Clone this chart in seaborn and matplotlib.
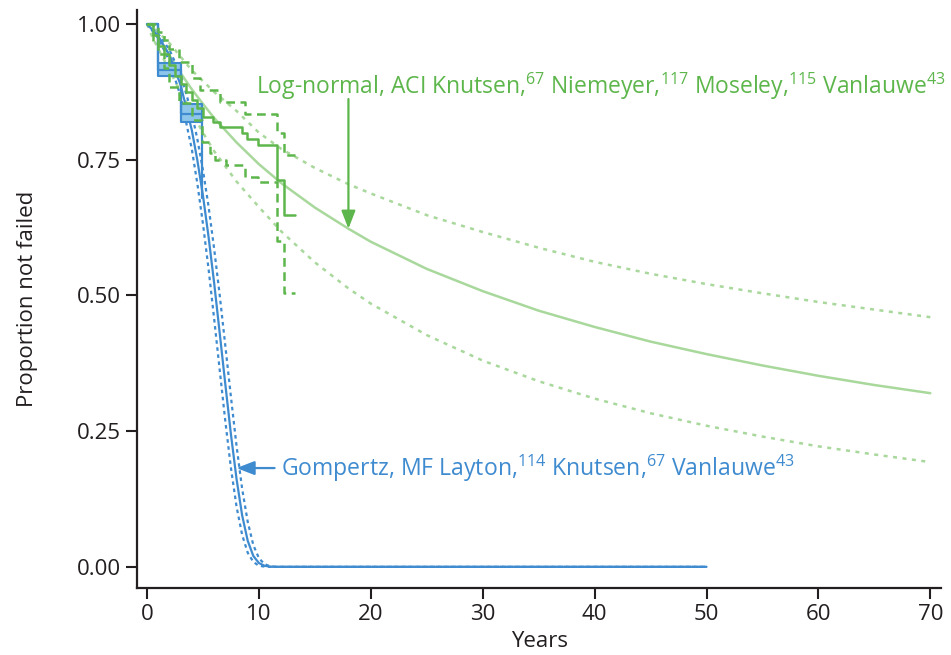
import matplotlib
matplotlib.use("Agg")
import matplotlib.pyplot as plt
import seaborn as sns
import pandas as pd

# ---------------- data ----------------
# Log-normal fit (ACI) : central curve and confidence limits
ln_t = [0, 0.5, 1, 2, 3, 4, 5, 6, 8, 10, 12, 15, 18, 20, 25, 30, 35, 40, 45, 50, 55, 60, 65, 70]
ln_mid = [1.0, 0.991, 0.976, 0.942, 0.910, 0.880, 0.853, 0.827, 0.782, 0.742, 0.707, 0.662,
          0.623, 0.599, 0.549, 0.508, 0.472, 0.442, 0.415, 0.392, 0.371, 0.352, 0.335, 0.320]
ln_up = [1.0, 0.995, 0.985, 0.965, 0.940, 0.915, 0.895, 0.875, 0.840, 0.800, 0.770, 0.735,
         0.705, 0.688, 0.648, 0.617, 0.588, 0.562, 0.540, 0.521, 0.504, 0.488, 0.474, 0.460]
ln_lo = [1.0, 0.975, 0.955, 0.915, 0.875, 0.838, 0.800, 0.766, 0.710, 0.663, 0.618, 0.561,
         0.513, 0.485, 0.427, 0.380, 0.342, 0.310, 0.283, 0.260, 0.240, 0.222, 0.207, 0.193]

# Gompertz fit (MF) : central curve and confidence limits
gz_t = [0, 1, 2, 3, 4, 4.5, 5, 5.5, 6, 6.5, 7, 7.5, 8, 8.5, 9, 9.5, 10, 10.5, 11, 11.5, 12, 50]
gz_mid = [1.0, 0.978, 0.943, 0.888, 0.805, 0.749, 0.684, 0.608, 0.523, 0.430, 0.336, 0.244,
          0.162, 0.095, 0.048, 0.020, 0.007, 0.002, 0.0003, 0.0, 0.0, 0.0]
gz_up = [1.0, 0.982, 0.953, 0.907, 0.836, 0.788, 0.731, 0.664, 0.586, 0.500, 0.407, 0.313,
         0.223, 0.144, 0.083, 0.040, 0.016, 0.005, 0.001, 0.0002, 0.0, 0.0]
gz_lo = [1.0, 0.974, 0.932, 0.867, 0.770, 0.706, 0.632, 0.549, 0.457, 0.362, 0.268, 0.182,
         0.111, 0.059, 0.026, 0.009, 0.002, 0.0004, 0.0, 0.0, 0.0, 0.0]

# Kaplan-Meier, ACI (green steps)
km_g_t = [0, 0.5, 1.0, 1.5, 2.0, 2.5, 3.0, 3.5, 4.0, 4.5, 5.0, 5.9, 6.5, 8.5, 8.9, 9.9, 11.6, 12.2, 13.2]
km_g_s = [1.0, 0.98, 0.96, 0.945, 0.925, 0.905, 0.89, 0.875, 0.86, 0.845, 0.829, 0.82, 0.811,
          0.80, 0.789, 0.777, 0.713, 0.648, 0.648]
km_g_up_t = [0, 0.5, 1.0, 1.5, 2.0, 2.9, 4.0, 4.7, 6.5, 8.8, 11.6, 12.2, 13.2]
km_g_up = [1.0, 1.0, 0.985, 0.97, 0.955, 0.93, 0.90, 0.878, 0.856, 0.835, 0.80, 0.759, 0.759]
km_g_lo_t = [0, 0.5, 1.0, 1.5, 2.0, 2.9, 4.0, 4.9, 5.6, 6.1, 7.1, 8.8, 9.9, 11.6, 12.2, 13.2]
km_g_lo = [1.0, 0.965, 0.945, 0.92, 0.885, 0.854, 0.823, 0.783, 0.762, 0.75, 0.74, 0.719,
           0.71, 0.60, 0.505, 0.505]

# Kaplan-Meier, MF (blue steps with CI boxes)
km_b_t = [0, 1.0, 3.0, 4.9]
km_b_s = [1.0, 0.915, 0.835, 0.68]
km_b_up = [1.0, 0.928, 0.852, 0.852]
km_b_lo = [1.0, 0.905, 0.820, 0.820]

x_ticks = [0, 10, 20, 30, 40, 50, 60, 70]
y_ticks = [0.0, 0.25, 0.5, 0.75, 1.0]
y_ticklabels = ["0.00", "0.25", "0.50", "0.75", "1.00"]

lab_green = ("Log-normal, ACI Knutsen,$^{\\mathregular{67}}$ Niemeyer,$^{\\mathregular{117}}$ "
             "Moseley,$^{\\mathregular{115}}$ Vanlauwe$^{\\mathregular{43}}$")
lab_blue = ("Gompertz, MF Layton,$^{\\mathregular{114}}$ Knutsen,$^{\\mathregular{67}}$ "
            "Vanlauwe$^{\\mathregular{43}}$")

# ---------------- style ----------------
sns.set_theme(style="ticks")
plt.rcParams["font.family"] = ["Open Sans", "DejaVu Sans"]

GREEN = "#5db64b"
LGREEN = "#a8d89b"
BLUE = "#3f8bd0"
BFILL = "#8ec5ea"
DARK = "#231f20"

fig = plt.figure(figsize=(9.51, 6.55), dpi=100)
ax = fig.add_axes([0.144, 0.1023, 0.846, 0.8824])

# log-normal curves
df_ln = pd.DataFrame({"t": ln_t, "mid": ln_mid, "up": ln_up, "lo": ln_lo})
sns.lineplot(data=df_ln, x="t", y="mid", ax=ax, color=LGREEN, lw=1.8, sort=False, estimator=None)
for col in ["up", "lo"]:
    sns.lineplot(data=df_ln, x="t", y=col, ax=ax, color=LGREEN, lw=1.8, sort=False,
                 estimator=None, linestyle=(0, (1.6, 2.2)))

# Gompertz curves
df_gz = pd.DataFrame({"t": gz_t, "mid": gz_mid, "up": gz_up, "lo": gz_lo})
sns.lineplot(data=df_gz, x="t", y="mid", ax=ax, color=BLUE, lw=1.6, sort=False, estimator=None)
for col in ["up", "lo"]:
    sns.lineplot(data=df_gz, x="t", y=col, ax=ax, color=BLUE, lw=1.6, sort=False,
                 estimator=None, linestyle=(0, (1.6, 1.6)))

# KM blue CI boxes
ax.fill_between(km_b_t, km_b_lo, km_b_up, step="post", facecolor=BFILL,
                edgecolor=BLUE, lw=1.5, zorder=3)
for i in range(1, len(km_b_t) - 1):
    ax.vlines(km_b_t[i], km_b_lo[i], km_b_up[i - 1], color=BLUE, lw=1.5, zorder=3)
df_kb = pd.DataFrame({"t": km_b_t, "s": km_b_s})
sns.lineplot(data=df_kb, x="t", y="s", ax=ax, color=BLUE, lw=1.6, sort=False,
             estimator=None, drawstyle="steps-post", zorder=4)

# KM green steps
df_kg = pd.DataFrame({"t": km_g_t, "s": km_g_s})
sns.lineplot(data=df_kg, x="t", y="s", ax=ax, color=GREEN, lw=1.8, sort=False,
             estimator=None, drawstyle="steps-post", zorder=4)
df_kgu = pd.DataFrame({"t": km_g_up_t, "s": km_g_up})
sns.lineplot(data=df_kgu, x="t", y="s", ax=ax, color=GREEN, lw=1.8, sort=False,
             estimator=None, drawstyle="steps-post", linestyle=(0, (3.5, 2.2)), zorder=4)
df_kgl = pd.DataFrame({"t": km_g_lo_t, "s": km_g_lo})
sns.lineplot(data=df_kgl, x="t", y="s", ax=ax, color=GREEN, lw=1.8, sort=False,
             estimator=None, drawstyle="steps-post", linestyle=(0, (3.5, 2.2)), zorder=4)

# annotations
ax.annotate("", xy=(18.0, 0.623), xytext=(18.0, 0.862),
            arrowprops=dict(arrowstyle="-|>,head_length=0.9,head_width=0.35",
                            color=GREEN, lw=1.6, shrinkA=0, shrinkB=0))
ax.text(9.75, 0.886, lab_green, color=GREEN, fontsize=16.5, va="center", ha="left")
ax.annotate("", xy=(8.0, 0.182), xytext=(11.4, 0.182),
            arrowprops=dict(arrowstyle="-|>,head_length=0.9,head_width=0.35",
                            color=BLUE, lw=1.6, shrinkA=0, shrinkB=0))
ax.text(11.95, 0.182, lab_blue, color=BLUE, fontsize=16.6, va="center", ha="left")

# axes
ax.set_xlim(-0.9, 71.0)
ax.set_ylim(-0.039, 1.026)
ax.set_xticks(x_ticks)
ax.set_xticklabels([str(v) for v in x_ticks])
ax.set_yticks(y_ticks)
ax.set_yticklabels(y_ticklabels)
ax.set_xlabel("Years", fontsize=16, color=DARK, labelpad=4)
ax.set_ylabel("Proportion not failed", fontsize=16, color=DARK, labelpad=28)
ax.tick_params(axis="both", labelsize=16, colors=DARK, length=8, width=1.5, direction="out")
for side in ["top", "right"]:
    ax.spines[side].set_visible(False)
for side in ["left", "bottom"]:
    ax.spines[side].set_linewidth(1.6)
    ax.spines[side].set_color(DARK)
ax.grid(False)

fig.savefig("out.png", dpi=100)
